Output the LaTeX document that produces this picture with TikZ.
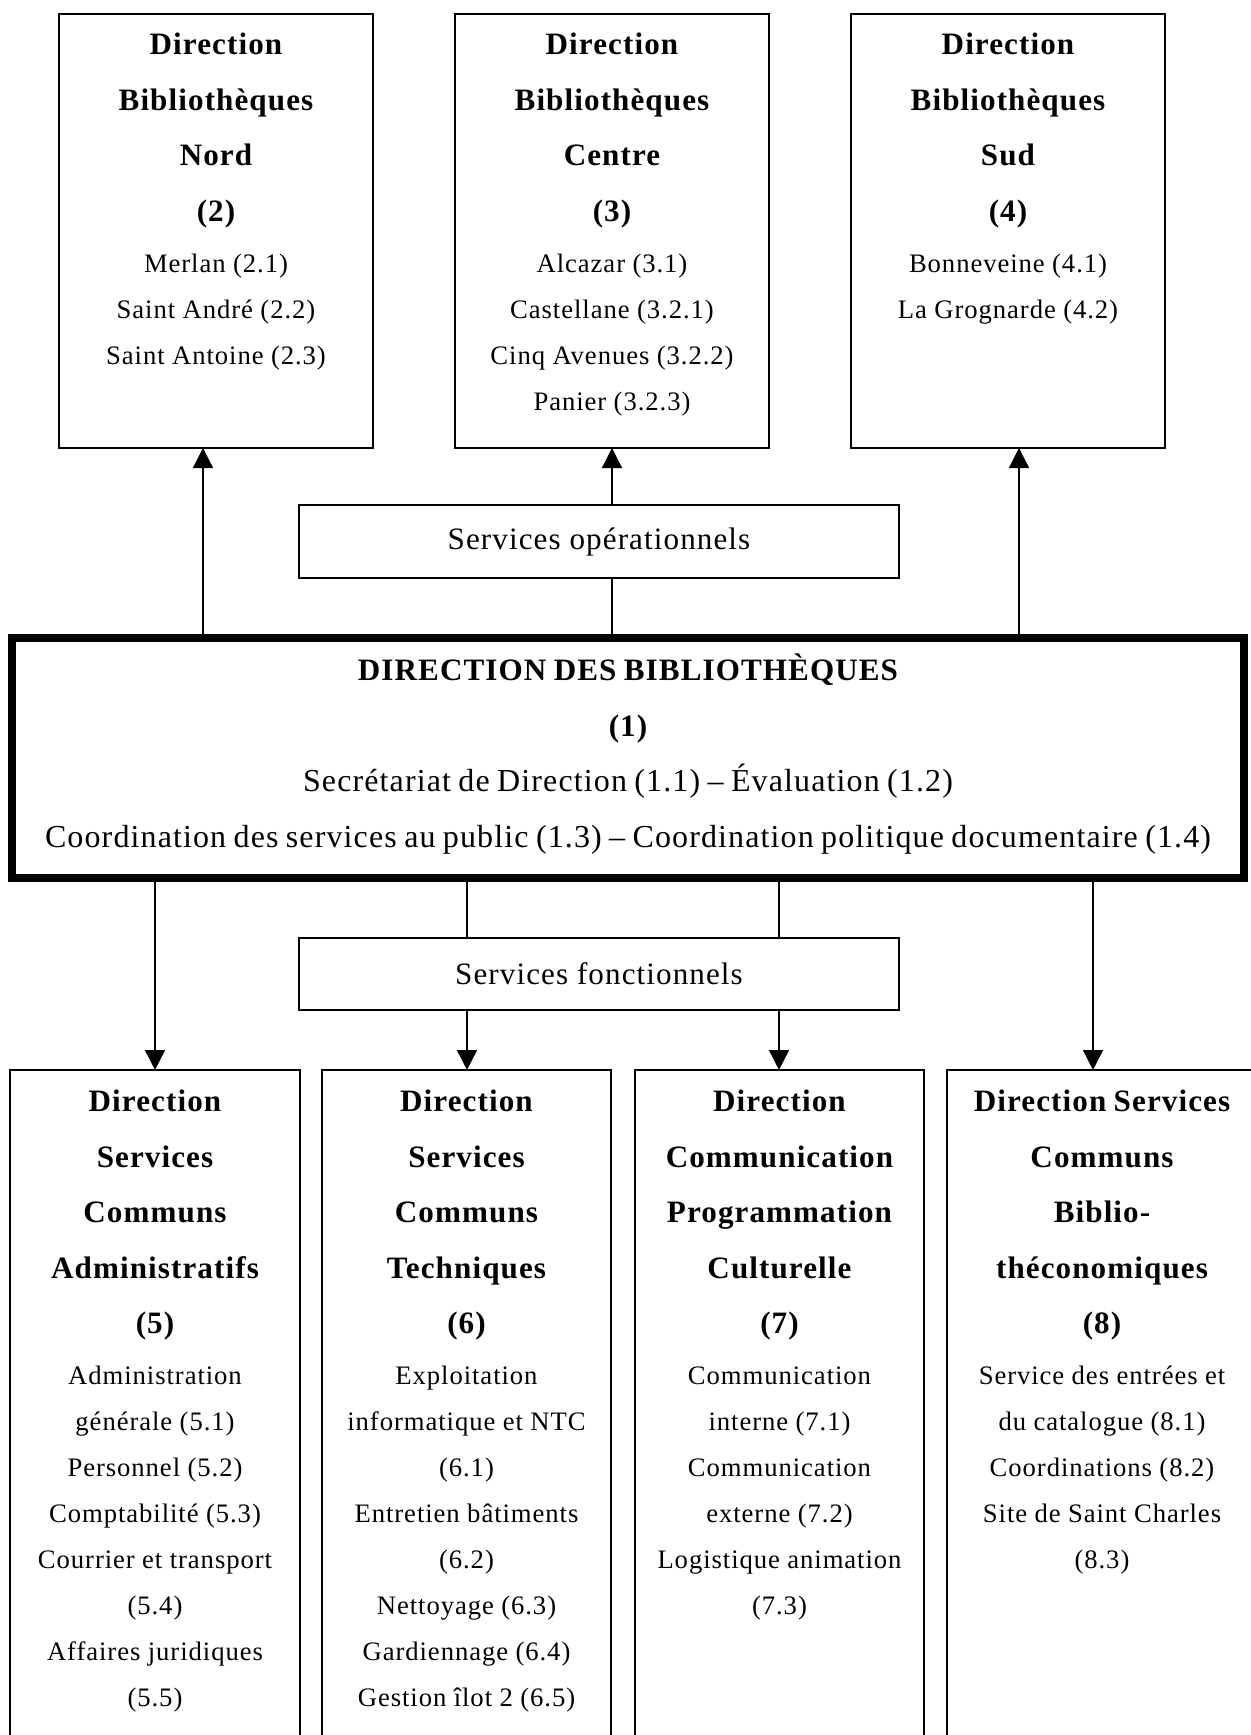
\documentclass[tikz,border=0pt]{standalone}
\usepackage{fontspec}
\setmainfont{Liberation Serif}[LetterSpace=3.5]
\usetikzlibrary{arrows.meta}
\newcommand\hdfont{\fontsize{14}{25}\selectfont\bfseries\rule{0pt}{14pt}}
\newcommand\subfont{\par\vspace{2.25pt}\fontsize{12}{20.7}\selectfont\mdseries}
\newcommand\ctrfont{\par\fontsize{14.4}{25}\selectfont\mdseries}
\tikzset{
  box/.style={draw, line width=0.7pt, inner sep=0pt, outer sep=0pt},
  bigbox/.style={draw, line width=3.6pt, inner sep=0pt, outer sep=0pt},
  txt/.style={anchor=north, yshift=14pt, inner sep=0pt, text width=300pt, align=center},
  conn/.style={line width=0.6pt},
  arr/.style={conn, -{Triangle[length=9pt,width=9pt]}},
  svc/.style={box, font=\fontsize{14}{16}\selectfont, minimum width=600*0.45pt, minimum height=72*0.45pt}
}
\begin{document}
\begin{tikzpicture}[x=0.45pt,y=-0.45pt]
\path[use as bounding box] (0,0) rectangle (1251,1735);
\clip (0,0) rectangle (1251,1735);
\fill[white] (0,0) rectangle (1251,1735);

% top boxes
\node[box, minimum width=314*0.45pt, minimum height=434*0.45pt] (b2) at (216,231) {};
\node[box, minimum width=314*0.45pt, minimum height=434*0.45pt] (b3) at (612,231) {};
\node[box, minimum width=314*0.45pt, minimum height=434*0.45pt] (b4) at (1008,231) {};
\node[txt] (t2) at (216,54) {\hdfont Direction\\Bibliothèques\\Nord\\(2)\subfont Merlan (2.1)\\Saint André (2.2)\\Saint Antoine (2.3)\par};
\node[txt] (t3) at (612,54) {\hdfont Direction\\Bibliothèques\\Centre\\(3)\subfont Alcazar (3.1)\\Castellane (3.2.1)\\Cinq Avenues (3.2.2)\\Panier (3.2.3)\par};
\node[txt] (t4) at (1008,54) {\hdfont Direction\\Bibliothèques\\Sud\\(4)\subfont Bonneveine (4.1)\\La Grognarde (4.2)\par};

% service boxes
\node[svc, minimum height=73*0.45pt] (so) at (599,541.5) {Services opérationnels};
\node[svc] (sf) at (599,974) {Services fonctionnels};

% central box
\node[bigbox, minimum width=1232.3*0.45pt, minimum height=240*0.45pt] (d1) at (627.9,758) {};
\node[txt, text width=600pt] (t1) at (628,680) {\hdfont DIRECTION DES BIBLIOTHÈQUES\\(1)\ctrfont Secrétariat de Direction (1.1) – Évaluation (1.2)\\Coordination des services au public (1.3) – Coordination politique documentaire (1.4)\par};

% bottom boxes
\node[box, minimum width=290*0.45pt, minimum height=690*0.45pt] (b5) at (155,1415) {};
\node[box, minimum width=289*0.45pt, minimum height=690*0.45pt] (b6) at (466.5,1415) {};
\node[box, minimum width=289*0.45pt, minimum height=690*0.45pt] (b7) at (779.5,1415) {};
\node[box, minimum width=313*0.45pt, minimum height=690*0.45pt] (b8) at (1103.5,1415) {};
\node[txt] (t5) at (155,1111) {\hdfont Direction\\Services\\Communs\\Administratifs\\(5)\subfont Administration\\générale (5.1)\\Personnel (5.2)\\Comptabilité (5.3)\\Courrier et transport\\(5.4)\\Affaires juridiques\\(5.5)\par};
\node[txt] (t6) at (466.5,1111) {\hdfont Direction\\Services\\Communs\\Techniques\\(6)\subfont Exploitation\\informatique et NTC\\(6.1)\\Entretien bâtiments\\(6.2)\\Nettoyage (6.3)\\Gardiennage (6.4)\\Gestion îlot 2 (6.5)\par};
\node[txt] (t7) at (779.5,1111) {\hdfont Direction\\Communication\\Programmation\\Culturelle\\(7)\subfont Communication\\interne (7.1)\\Communication\\externe (7.2)\\Logistique animation\\(7.3)\par};
\node[txt] (t8) at (1102,1111) {\hdfont Direction Services\\Communs\\Biblio-\\théconomiques\\(8)\subfont Service des entrées et\\du catalogue (8.1)\\Coordinations (8.2)\\Site de Saint Charles\\(8.3)\par};

% connector x positions
\coordinate (xa) at (203,0);
\coordinate (xb) at (612,0);
\coordinate (xc) at (1019,0);
\coordinate (xd) at (155,0);
\coordinate (xe) at (467,0);
\coordinate (xf) at (779,0);
\coordinate (xg) at (1093,0);

\draw[arr] (d1.north -| xa) -- (b2.south -| xa);
\draw[conn] (d1.north -| xb) -- (so.south -| xb);
\draw[arr] (so.north -| xb) -- (b3.south -| xb);
\draw[arr] (d1.north -| xc) -- (b4.south -| xc);
\draw[arr] (d1.south -| xd) -- (b5.north -| xd);
\draw[conn] (d1.south -| xe) -- (sf.north -| xe);
\draw[arr] (sf.south -| xe) -- (b6.north -| xe);
\draw[conn] (d1.south -| xf) -- (sf.north -| xf);
\draw[arr] (sf.south -| xf) -- (b7.north -| xf);
\draw[arr] (d1.south -| xg) -- (b8.north -| xg);
\end{tikzpicture}
\end{document}
